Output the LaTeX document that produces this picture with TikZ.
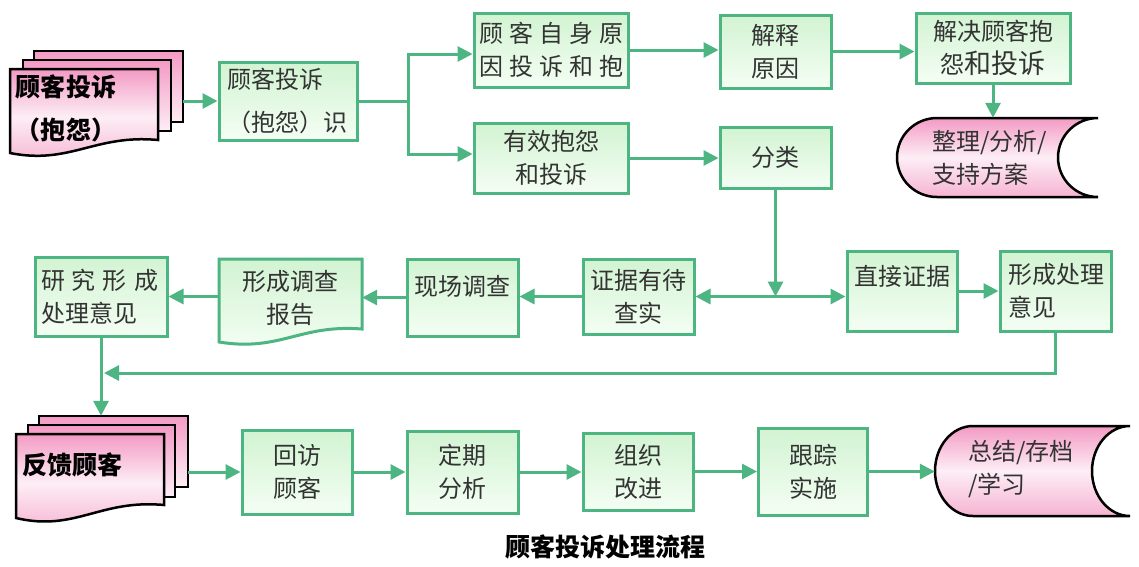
\documentclass[tikz,border=0pt]{standalone}
\usepackage{fontspec}
\setmainfont{Noto Sans CJK SC}
\usetikzlibrary{arrows.meta}
\definecolor{gline}{HTML}{4DB582}
\definecolor{gtop}{HTML}{D2F3D2}
\definecolor{gbot}{HTML}{F4FEF4}
\definecolor{ptop}{HTML}{F39AC4}
\definecolor{pmid}{HTML}{FDEEF5}
\definecolor{pbot}{HTML}{F6B3D2}
\definecolor{txtc}{HTML}{333333}
\newcommand{\gapa}{\hspace{6pt}}
\newcommand{\gapb}{\hspace{7pt}}
\begin{document}
\begin{tikzpicture}[x=1pt,y=-1pt,
 box/.style={draw=gline,line width=3pt,top color=gtop,bottom color=gbot,text=txtc,inner sep=0pt,align=center,font=\fontsize{24}{33}\selectfont},
 lbl/.style={inner sep=0pt,text=txtc,align=center,font=\fontsize{24}{33}\selectfont},
 gdoc/.style={draw=gline,line width=3pt,top color=gtop,bottom color=gbot},
 sheet/.style={draw=black,line width=2.5pt,top color=ptop,bottom color=pmid},
 frontsheet/.style={draw=black,line width=2.5pt,top color=ptop,bottom color=pbot,middle color=pmid},
 cyl/.style={draw=black,line width=2.5pt,top color=ptop,bottom color=pbot,middle color=pmid},
 pinklbl/.style={inner sep=0pt,text=black,align=left,font=\fontsize{25}{43}\selectfont\bfseries},
 cyllbl/.style={inner sep=0pt,text=txtc,align=left,font=\fontsize{24}{33}\selectfont},
 arr/.style={draw=gline,line width=3pt,-{Triangle[length=15pt,width=15pt]}},
 ln/.style={draw=gline,line width=3pt}]
\useasboundingbox (0,0) rectangle (1139,566);
\fill[white] (0,0) rectangle (1139,566);

% ---- multi-document 1
\path[sheet] (34,51) rectangle (183,122);
\path[sheet] (23,60) rectangle (171,131);
\path[frontsheet] (10,69) -- (158,69) -- (158,140) .. controls (95,134) and (70,165) .. (10,153) -- cycle;
\node[pinklbl, minimum width=173pt, minimum height=97pt, text width=161pt] (md1) at (96.5,108.5) {顾客投诉\\（抱怨）};

% ---- multi-document 2
\path[sheet] (39,416) rectangle (188,487);
\path[sheet] (28,425) rectangle (175,497);
\path[frontsheet] (16,434) -- (164,434) -- (164,505) .. controls (100,499) and (75,532) .. (16,518) -- cycle;
\node[pinklbl, minimum width=172pt, minimum height=98pt, text width=160pt] (md2) at (102,465) {反馈顾客};

% ---- row 1 boxes
\node[box, minimum width=138pt, minimum height=78pt, text width=122pt, align=left, font=\fontsize{24}{43}\selectfont] (b1) at (288,101) {顾客投诉\\（抱怨）识};
\node[box, minimum width=154pt, minimum height=74pt] (b2) at (551,50) {顾\gapa 客\gapa 自\gapa 身\gapa 原\\因\gapa 投\gapa 诉\gapa 和\gapa 抱};
\node[box, minimum width=154pt, minimum height=70pt] (b3) at (551,158) {有效抱怨\\和投诉};
\node[box, minimum width=111pt, minimum height=73pt] (b4) at (775.5,51.5) {解释\\原因};
\node[box, minimum width=111pt, minimum height=61pt] (b5) at (775.5,157.5) {分类};
\node[box, minimum width=154pt, minimum height=70pt] (b6) at (993,48) {解决顾客抱\\怨{\fontsize{27}{33}\selectfont 和投诉}};

% ---- cylinder 1
\path[cyl] (937,118) -- (1098,118) arc[start angle=90, end angle=270, x radius=40pt, y radius=39.5pt] -- (937,197) arc[start angle=270, end angle=90, x radius=40pt, y radius=39.5pt] -- cycle;
\node[cyllbl, minimum width=201pt, minimum height=79pt, text width=130pt] (cy1) at (997.5,157.5) {整理/分析/\\支持方案};

% ---- row 2
\node[box, minimum width=132pt, minimum height=79pt, align=left, text width=120pt] (yj) at (101,296.5) {\mbox{研\gapb 究\gapb 形\gapb 成}\\处理意见};
\path[gdoc] (219,259) -- (362,259) -- (362,329) .. controls (300,324) and (280,352) .. (219,342) -- cycle;
\node[lbl, minimum width=143pt, minimum height=78pt] (bg) at (290.5,298) {形成调查\\报告};
\node[box, minimum width=111pt, minimum height=77pt, text depth=24pt] (xd) at (462.5,297.5) {现场调查};
\node[box, minimum width=111pt, minimum height=75pt] (zj) at (638.5,296.5) {证据有待\\查实};
\node[box, minimum width=110pt, minimum height=80pt, text depth=31pt] (zd) at (902,291) {直接证据};
\node[box, minimum width=111pt, minimum height=80pt, align=left, text width=95pt] (xc) at (1055.5,291) {形成处理\\意见};

% ---- row 3
\node[box, minimum width=110pt, minimum height=84pt] (r1) at (297,472) {回访\\顾客};
\node[box, minimum width=111pt, minimum height=82pt] (r2) at (462.5,472) {定期\\分析};
\node[box, minimum width=110pt, minimum height=77pt] (r3) at (638,471.5) {组织\\改进};
\node[box, minimum width=109pt, minimum height=87pt] (r4) at (813,471.5) {跟踪\\实施};

% ---- cylinder 2
\path[cyl] (973,426) -- (1130,426) arc[start angle=90, end angle=270, x radius=38pt, y radius=45pt] -- (973,516) arc[start angle=270, end angle=90, x radius=38pt, y radius=45pt] -- cycle;
\node[cyllbl, minimum width=195pt, minimum height=90pt, text width=129pt] (cy2) at (1032.5,469) {总结/存档\\/学习};

% ---- title
\node[inner sep=0pt, font=\fontsize{25}{30}\selectfont\bfseries] (title) at (605.5,547) {顾客投诉处理流程};

% ---- connectors
\draw[arr] (md1.east |- b1.west) -- (b1.west);
\coordinate (br) at (408,101);
\draw[ln] (b1.east) -- (br);
\draw[arr] (br) |- ([yshift=-4pt]b2.west);
\draw[arr] (br) |- ([yshift=4pt]b3.west);
\draw[arr] (b2.east) -- (b2.east -| b4.west);
\draw[arr] (b3.east) -- (b3.east -| b5.west);
\draw[arr] (b4.east) -- (b4.east -| b6.west);
\draw[arr] (b6.south) -- (b6.south |- cy1.north);

\coordinate (jn) at (b5.south |- zj.east);
\draw[arr] (b5.south) -- (jn);
\draw[arr] (jn) -- (jn -| zj.east);
\draw[arr] (jn) -- (jn -| zd.west);
\draw[arr] (zd.east) -- (zd.east -| xc.west);
\draw[arr] (zj.west) -- (zj.west -| xd.east);
\draw[arr] (xd.west) -- (xd.west -| bg.east);
\draw[arr] (yj.east -| bg.west) -- (yj.east);
\coordinate (ret) at (104,373);
\draw[arr] (xc.south) |- (ret);
\draw[arr] (yj.south) -- (yj.south |- md2.north);

\draw[arr] (md2.east |- r1.west) -- (r1.west);
\draw[arr] (r1.east) -- (r1.east -| r2.west);
\draw[arr] (r2.east) -- (r2.east -| r3.west);
\draw[arr] (r3.east) -- (r3.east -| r4.west);
\draw[arr] (r4.east) -- (r4.east -| cy2.west);
\end{tikzpicture}
\end{document}
